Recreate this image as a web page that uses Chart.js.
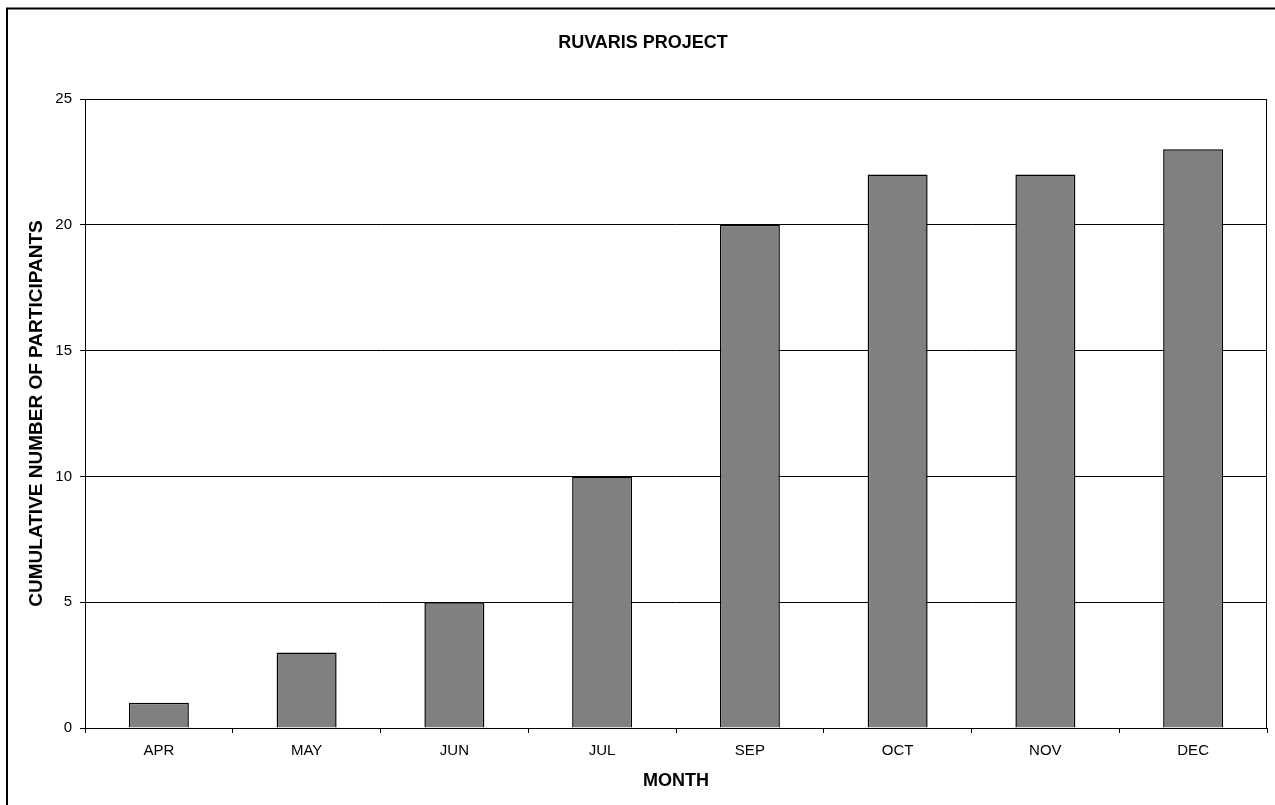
<!DOCTYPE html>
<html>
<head>
<meta charset="utf-8">
<script src="https://cdn.jsdelivr.net/npm/chart.js@4/dist/chart.umd.min.js"></script>
<style>
  html, body { margin: 0; padding: 0; background: #fff; overflow: hidden; }
  #wrap { width: 1275px; height: 805px; position: relative; }
</style>
</head>
<body>
<div id="wrap"><canvas id="chart"></canvas></div>
<script>
// Cumulative enrolment per month
const months = ['APR', 'MAY', 'JUN', 'JUL', 'SEP', 'OCT', 'NOV', 'DEC'];
const participants = [1, 3, 5, 10, 20, 22, 22, 23];
const yTicks = [0, 5, 10, 15, 20, 25];

const FONT = '"Liberation Sans", Arial, sans-serif';

// Frame around the whole chart and a box around the plot area
const frames = {
  id: 'frames',
  beforeDatasetsDraw(chart) {
    const { ctx, chartArea: a } = chart;
    ctx.save();
    ctx.strokeStyle = '#000';
    ctx.lineWidth = 1;
    ctx.beginPath();
    ctx.moveTo(a.left, a.top + 0.5);
    ctx.lineTo(a.right - 0.5, a.top + 0.5);
    ctx.lineTo(a.right - 0.5, a.bottom);
    ctx.stroke();
    ctx.restore();
  },
  afterDraw(chart) {
    const { ctx } = chart;
    ctx.save();
    ctx.strokeStyle = '#000';
    ctx.lineWidth = 2;
    ctx.strokeRect(7, 8.5, chart.width + 20, chart.height + 20);
    ctx.restore();
  }
};

new Chart(document.getElementById('chart'), {
  type: 'bar',
  data: {
    labels: months,
    datasets: [{
      data: participants,
      backgroundColor: '#808080',
      borderColor: '#000',
      borderWidth: 1.5,
      borderSkipped: 'start',
      barPercentage: 0.406,
      categoryPercentage: 1
    }]
  },
  options: {
    responsive: true,
    maintainAspectRatio: false,
    animation: false,
    layout: { padding: { left: 19, right: 8, top: 0, bottom: 0 } },
    plugins: {
      legend: { display: false },
      tooltip: { enabled: false },
      title: {
        display: true,
        text: 'RUVARIS PROJECT',
        color: '#000',
        font: { family: FONT, size: 18, weight: 'bold' },
        padding: { top: 32, bottom: 45.4 }
      }
    },
    scales: {
      x: {
        offset: true,
        grid: {
          offset: true,
          drawOnChartArea: false,
          drawTicks: true,
          tickLength: 5,
          color: '#000'
        },
        border: { display: true, color: '#000', width: 1 },
        ticks: {
          color: '#000',
          font: { family: FONT, size: 15 },
          padding: 9,
          maxRotation: 0
        },
        title: {
          display: true,
          text: 'MONTH',
          color: '#000',
          font: { family: FONT, size: 18, weight: 'bold' },
          padding: { top: 4, bottom: 13 }
        },
        afterFit(scale) { scale.height = 77; }
      },
      y: {
        min: 0,
        max: 25,
        afterBuildTicks(scale) { scale.ticks = yTicks.map(v => ({ value: v })); },
        grid: {
          color: '#000',
          lineWidth: 1,
          drawTicks: true,
          tickLength: 5
        },
        border: { display: true, color: '#000', width: 1 },
        ticks: {
          color: '#000',
          font: { family: FONT, size: 15 },
          padding: 8
        },
        title: {
          display: true,
          text: 'CUMULATIVE NUMBER OF PARTICIPANTS',
          color: '#000',
          font: { family: FONT, size: 19, weight: 'bold' },
          padding: { top: 6, bottom: 4 }
        },
        afterFit(scale) { scale.width = 66; }
      }
    }
  },
  plugins: [frames]
});
</script>
</body>
</html>
